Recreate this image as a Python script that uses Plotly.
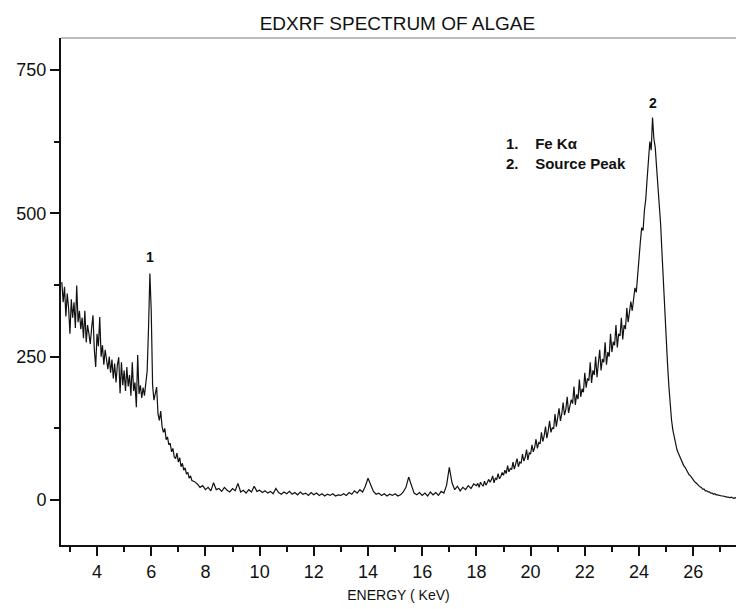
import plotly.graph_objects as go

# ---- data ----------------------------------------------------------------
# Segment A: 2.70 - 7.50 keV, 0.05 keV channels
seg_a_start, seg_a_step = 2.70, 0.05
seg_a_counts = [
    380, 345, 372, 320, 360, 335,                                   # 2.70-2.95
    290, 350, 318, 345, 300, 374, 310, 330, 298, 318,               # 3.00-3.45
    282, 330, 275, 305, 290, 272, 300, 322, 262, 232,               # 3.50-3.95
    290, 268, 319, 250, 270, 236, 262, 240, 228, 250,               # 4.00-4.45
    222, 245, 212, 238, 205, 235, 249, 186, 240, 200,               # 4.50-4.95
    226, 190, 232, 198, 218, 182, 240, 190, 205, 162,               # 5.00-5.45
    253, 185, 200, 178, 196, 182, 210, 225, 300, 395,               # 5.50-5.95
    330, 200, 174, 185, 197, 150, 139, 155, 128, 118,               # 6.00-6.45
    125, 105, 110, 96, 99, 84, 90, 75, 72, 82,                      # 6.50-6.95
    66, 74, 58, 64, 52, 56, 45, 48, 38, 42,                         # 7.00-7.45
    34,                                                             # 7.50
]

# Segment B: 7.6 - 17.9 keV, 0.1 keV channels
seg_b_start, seg_b_step = 7.6, 0.1
seg_b_counts = [
    32, 28, 22, 25,                                                 # 7.6-7.9
    18, 22, 16, 30, 18, 20, 15, 22, 17, 14,                         # 8.0-8.9
    20, 16, 29, 14, 17, 12, 18, 14, 24, 15,                         # 9.0-9.9
    17, 13, 16, 12, 15, 11, 20, 13, 10, 14,                         # 10.0-10.9
    11, 15, 10, 13, 9, 14, 10, 12, 8, 13,                           # 11.0-11.9
    9, 12, 8, 11, 7, 10, 8, 11, 7, 9,                               # 12.0-12.9
    8, 11, 8, 13, 10, 16, 12, 18, 14, 24,                           # 13.0-13.9
    38, 28, 15, 10, 12, 8, 11, 7, 10, 8,                            # 14.0-14.9
    11, 7, 9, 14, 22, 40, 25, 12, 9, 13,                            # 15.0-15.9
    8, 12, 7, 14, 9, 13, 8, 15, 12, 26,                             # 16.0-16.9
    57, 30, 18, 24, 16, 22, 18, 25, 20, 28,                         # 17.0-17.9
]

# Segment C: 18.00 - 24.00 keV, 0.05 keV channels
seg_c_start, seg_c_step = 18.0, 0.05
seg_c_counts = [
    25, 29, 22, 31, 27, 24, 33, 26, 30, 36,                         # 18.00-18.45
    31, 35, 42, 30, 38, 36, 46, 37, 41, 48,                         # 18.50-18.95
    43, 52, 46, 60, 49, 55, 53, 66, 54, 61,                         # 19.00-19.45
    72, 58, 66, 64, 80, 68, 74, 88, 70, 82,                         # 19.50-19.95
    80, 96, 84, 92, 106, 90, 100, 98, 118, 102,                     # 20.00-20.45
    112, 128, 108, 120, 138, 118, 126, 124, 150, 128,               # 20.50-20.95
    142, 160, 138, 150, 170, 148, 158, 180, 152, 166,               # 21.00-21.45
    175, 168, 198, 166, 184, 176, 210, 180, 194, 188,               # 21.50-21.95
    222, 196, 212, 208, 240, 204, 226, 218, 250, 214,               # 22.00-22.45
    236, 262, 226, 246, 240, 275, 236, 258, 250, 290,               # 22.50-22.95
    258, 276, 270, 305, 266, 290, 286, 318, 280, 305,               # 23.00-23.45
    298, 335, 310, 325, 346, 330, 352, 370, 362, 398,               # 23.50-23.95
    425,                                                            # 24.00
]

# Segment D: 24.05 - 27.60 keV, 0.05 keV channels
seg_d_start, seg_d_step = 24.05, 0.05
seg_d_counts = [
    450, 475, 470, 505, 525, 560, 600, 625, 610, 667,               # 24.05-24.50
    630, 615, 580, 550, 520, 480, 430, 375, 320,                    # 24.55-24.95
    275, 240, 200, 168, 140, 122, 110, 98, 88, 82,                  # 25.00-25.45
    76, 70, 66, 60, 57, 52, 50, 44, 42, 38,                         # 25.50-25.95
    36, 32, 30, 27, 26, 23, 22, 19, 19, 16,                         # 26.00-26.45
    16, 14, 14, 12, 12, 10, 11, 9, 9, 8,                            # 26.50-26.95
    8, 7, 7, 6, 6, 5, 5, 4, 5, 4, 3, 4, 3,                          # 27.00-27.60
]

x_ticks = [4, 6, 8, 10, 12, 14, 16, 18, 20, 22, 24, 26]
y_ticks = [0, 250, 500, 750]

peak_labels = ["1", "2"]
peak_energy = [5.96, 24.5]
peak_label_y = [423, 692]

legend_lines = ["1.&nbsp;&nbsp;&nbsp;&nbsp;Fe K\u03b1", "2.&nbsp;&nbsp;&nbsp;&nbsp;Source Peak"]

# ---- assemble the series --------------------------------------------------
energy, counts = [], []
for start, step, vals in [(seg_a_start, seg_a_step, seg_a_counts),
                          (seg_b_start, seg_b_step, seg_b_counts),
                          (seg_c_start, seg_c_step, seg_c_counts),
                          (seg_d_start, seg_d_step, seg_d_counts)]:
    energy += [round(start + step * i, 3) for i in range(len(vals))]
    counts += vals

FONT = "Liberation Sans, Arial, sans-serif"
INK = "#111111"

fig = go.Figure()
fig.add_trace(go.Scatter(
    x=energy, y=counts, mode="lines",
    line=dict(color=INK, width=1.2),
    showlegend=False, hoverinfo="skip",
))

for lab, ex, ly in zip(peak_labels, peak_energy, peak_label_y):
    fig.add_annotation(x=ex, y=ly, text="<b>%s</b>" % lab, showarrow=False,
                       font=dict(family=FONT, size=14, color=INK))

fig.add_annotation(x=19.0, y=604, xanchor="left", yanchor="middle",
                   text="<b>" + "<br>".join(legend_lines) + "</b>",
                   showarrow=False, align="left",
                   font=dict(family=FONT, size=15, color=INK))

# thin top frame line
fig.add_shape(type="line", xref="paper", yref="paper", x0=0, x1=1, y0=1, y1=1,
              line=dict(color="#777777", width=1))

fig.update_layout(
    width=736, height=609,
    margin=dict(l=61, r=0, t=38, b=64),
    paper_bgcolor="white", plot_bgcolor="white",
    title=dict(text="EDXRF SPECTRUM OF ALGAE", x=0.54, xanchor="center",
               y=1 - 23 / 609, yanchor="middle",
               font=dict(family=FONT, size=19, color=INK)),
    font=dict(family=FONT, color=INK),
)

fig.update_xaxes(
    range=[2.67, 27.58], tickmode="array", tickvals=x_ticks,
    ticks="outside", ticklen=9, tickwidth=1.5, tickcolor=INK,
    showline=True, linecolor=INK, linewidth=2,
    showgrid=False, zeroline=False,
    tickfont=dict(family=FONT, size=18, color=INK),
    minor=dict(dtick=1, tick0=0, ticks="outside", ticklen=5, tickcolor=INK, showgrid=False),
    title=dict(text="ENERGY ( KeV)", font=dict(family=FONT, size=14, color=INK), standoff=10),
)
fig.update_yaxes(
    range=[-78.5, 805.8], tickmode="array", tickvals=y_ticks,
    ticks="outside", ticklen=9, tickwidth=1.5, tickcolor=INK,
    showline=True, linecolor=INK, linewidth=2,
    showgrid=False, zeroline=False,
    tickfont=dict(family=FONT, size=18, color=INK),
    minor=dict(dtick=125, tick0=0, ticks="outside", ticklen=5, tickcolor=INK, showgrid=False),
)

fig.write_html("out.html")
